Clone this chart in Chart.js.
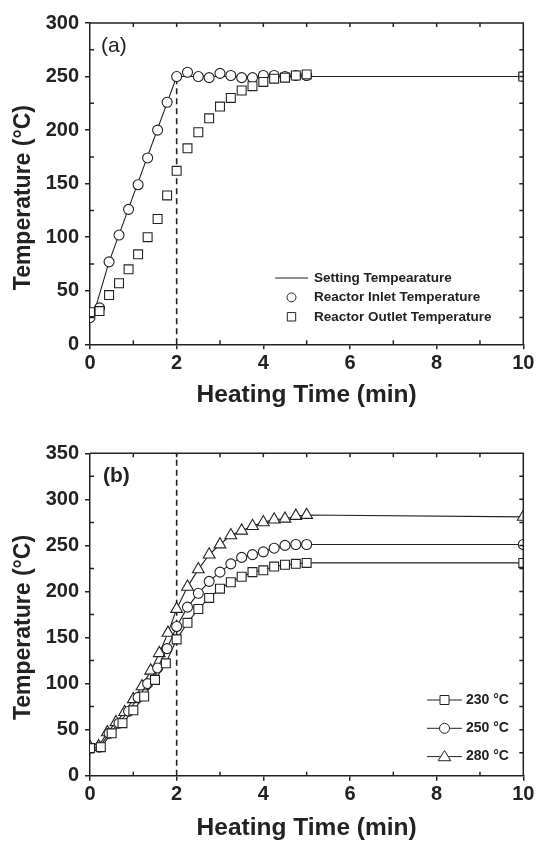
<!DOCTYPE html>
<html>
<head>
<meta charset="utf-8">
<script src="https://cdn.jsdelivr.net/npm/chart.js@4.4.1/dist/chart.umd.min.js"></script>
<style>
  body { margin: 0; background: #fff; }
  #wrap { position: relative; width: 537px; height: 849px; }
  canvas { position: absolute; left: 0; }
</style>
</head>
<body>
<div id="wrap">
  <canvas id="chartA" width="537" height="420" style="top:0"></canvas>
  <canvas id="chartB" width="537" height="429" style="top:420px"></canvas>
</div>
<script>
// ---- panel (a) ----
const timeA = [0, 0.22, 0.44, 0.67, 0.89, 1.11, 1.33, 1.56, 1.78, 2.0, 2.25, 2.5, 2.75, 3.0, 3.25, 3.5, 3.75, 4.0, 4.25, 4.5, 4.75, 5.0, 10];
const inletTemp = [25, 34, 77, 102, 126, 149, 174, 200, 226, 250, 254, 250, 249, 253, 251, 249, 249, 251, 251, 250, 251, 251, 250];
const outletTemp = [30, 31, 46, 57, 70, 84, 100, 117, 139, 162, 183, 198, 211, 222, 230, 237, 241, 245, 248, 249, 251, 252, 250];
const settingTime = [0.12, 0.44, 2, 10];
const settingTemp = [33, 77, 250, 250];

// ---- panel (b) ----
const time230 = [0, 0.25, 0.5, 0.75, 1.0, 1.25, 1.5, 1.75, 2.0, 2.25, 2.5, 2.75, 3.0, 3.25, 3.5, 3.75, 4.0, 4.25, 4.5, 4.75, 5.0, 10];
const temp230 = [30, 31, 46, 57, 71, 86, 104, 122, 148, 166, 181, 193, 203, 210, 216, 221, 223, 227, 229, 230, 231, 231];
const time250 = [0, 0.22, 0.44, 0.67, 0.89, 1.11, 1.33, 1.56, 1.78, 2.0, 2.25, 2.5, 2.75, 3.0, 3.25, 3.5, 3.75, 4.0, 4.25, 4.5, 4.75, 5.0, 10];
const temp250 = [30, 31, 46, 57, 70, 85, 100, 117, 138, 162, 183, 198, 211, 221, 230, 237, 240, 243, 247, 250, 251, 251, 251];
const time280 = [0, 0.2, 0.4, 0.6, 0.8, 1.0, 1.2, 1.4, 1.6, 1.8, 2.0, 2.25, 2.5, 2.75, 3.0, 3.25, 3.5, 3.75, 4.0, 4.25, 4.5, 4.75, 5.0, 10];
const temp280 = [31, 32, 47, 58, 69, 83, 97, 114, 133, 155, 181, 205, 224, 240, 251, 261, 266, 271, 275, 278, 279, 282, 283, 281];

const switchTime = 2;
const xTicks = [0, 2, 4, 6, 8, 10];

const FONT = '"Liberation Sans", Arial, Helvetica, sans-serif';
const INK = '#222';
Chart.defaults.font.family = FONT;
Chart.defaults.color = INK;

const pts = (xs, ys) => xs.map((x, i) => ({ x: x, y: ys[i] }));

// frame box + small inward ticks on all sides
const frameTicks = {
  id: 'frameTicks',
  afterDraw(chart) {
    const { ctx, chartArea: a, scales: { x, y } } = chart;
    ctx.save();
    ctx.strokeStyle = INK;
    ctx.lineWidth = 1.5;
    ctx.beginPath();
    ctx.moveTo(a.left, a.top);
    ctx.lineTo(a.right, a.top);
    ctx.lineTo(a.right, a.bottom);
    for (let v = 1; v < x.max; v++) {
      const px = x.getPixelForValue(v);
      ctx.moveTo(px, a.top);
      ctx.lineTo(px, a.top + 4);
      if (v % 2) {
        ctx.moveTo(px, a.bottom);
        ctx.lineTo(px, a.bottom - 4);
      }
    }
    for (let v = 25; v < y.max; v += 25) {
      const py = y.getPixelForValue(v);
      ctx.moveTo(a.right, py);
      ctx.lineTo(a.right - 4, py);
      if (v % 50) {
        ctx.moveTo(a.left, py);
        ctx.lineTo(a.left + 4, py);
      }
    }
    ctx.stroke();
    ctx.restore();
  }
};

function drawSymbol(ctx, kind, x, y, r) {
  ctx.beginPath();
  if (kind === 'circle') {
    ctx.arc(x, y, r, 0, Math.PI * 2);
  } else if (kind === 'rect') {
    ctx.rect(x - r, y - r, 2 * r, 2 * r);
  } else if (kind === 'triangle') {
    ctx.moveTo(x, y - r * 1.1);
    ctx.lineTo(x + r * 1.15, y + r * 0.75);
    ctx.lineTo(x - r * 1.15, y + r * 0.75);
    ctx.closePath();
  }
  ctx.fillStyle = '#fff';
  ctx.fill();
  ctx.stroke();
}

// y title, in-plot legend and panel letter
const notes = {
  id: 'notes',
  afterDraw(chart, args, opts) {
    const ctx = chart.ctx;
    const a = chart.chartArea;
    ctx.save();
    ctx.strokeStyle = INK;
    ctx.fillStyle = INK;
    ctx.lineWidth = 1;
    ctx.textBaseline = 'middle';

    ctx.save();
    ctx.translate(24, (a.top + a.bottom) / 2 + opts.yTitleShift);
    ctx.rotate(-Math.PI / 2);
    ctx.textAlign = 'center';
    ctx.font = 'bold 23px ' + FONT;
    ctx.fillText('Temperature (°C)', 0, 0);
    ctx.restore();

    ctx.font = opts.panelFont;
    ctx.fillText(opts.panel, opts.panelX, opts.panelY);
    ctx.font = opts.legendFont;
    opts.items.forEach((it, i) => {
      const y = opts.y0 + i * opts.dy;
      if (it.line) {
        ctx.beginPath();
        ctx.moveTo(opts.lineX0, y);
        ctx.lineTo(opts.lineX1, y);
        ctx.stroke();
      }
      if (it.symbol) drawSymbol(ctx, it.symbol, (opts.lineX0 + opts.lineX1) / 2, y, it.r);
      ctx.fillStyle = INK;
      ctx.fillText(it.text, opts.textX, y);
    });
    ctx.restore();
  }
};

function scales(yMax, xHeight, xTitlePad) {
  const tickFont = { size: 20, weight: 'bold' };
  const grid = { drawOnChartArea: false, tickLength: 5, color: INK, lineWidth: 1.5 };
  const border = { color: INK, width: 1.5 };
  return {
    x: {
      type: 'linear', min: 0, max: 10,
      afterBuildTicks(s) { s.ticks = xTicks.map(v => ({ value: v })); },
      ticks: { font: tickFont, padding: 2, color: INK, maxRotation: 0 },
      grid: grid, border: border,
      title: { display: true, text: 'Heating Time (min)', color: INK,
               font: { size: 24.5, weight: 'bold' }, padding: { top: 0, bottom: xTitlePad } },
      afterFit(s) { s.height = xHeight; }
    },
    y: {
      type: 'linear', min: 0, max: yMax,
      ticks: { stepSize: 50, font: tickFont, padding: 6, color: INK },
      grid: grid, border: border,
      afterFit(s) { s.width = 90; }
    }
  };
}

const markerStyle = { borderColor: INK, backgroundColor: '#fff', pointBorderWidth: 1.1, clip: 0 };

// ---- chart (a) ----
new Chart(document.getElementById('chartA'), {
  type: 'scatter',
  data: {
    datasets: [
      Object.assign({ label: 'Reactor Outlet Temperature', data: pts(timeA, outletTemp),
        pointStyle: 'rect', pointRadius: 6.3, order: 0 }, markerStyle),
      Object.assign({ label: 'Reactor Inlet Temperature', data: pts(timeA, inletTemp),
        pointStyle: 'circle', pointRadius: 5, order: 1 }, markerStyle),
      { label: 'Setting Tempearature', data: pts(settingTime, settingTemp), showLine: true,
        pointRadius: 0, borderColor: INK, borderWidth: 1.1, order: 2, clip: 0 },
      { label: 'switch', data: pts([switchTime, switchTime], [0, 250]), showLine: true,
        pointRadius: 0, borderColor: INK, borderWidth: 1.6, borderDash: [6, 4], order: 3 }
    ]
  },
  options: {
    responsive: false, animation: false,
    layout: { padding: { top: 23, right: 13.7, left: 0, bottom: 0 } },
    scales: scales(300, 75.7, 10),
    plugins: {
      legend: { display: false }, tooltip: { enabled: false },
      notes: {
        yTitleShift: 14,
        panel: '(a)', panelFont: '21px ' + FONT, panelX: 101, panelY: 46,
        legendFont: 'bold 13.5px ' + FONT, y0: 278, dy: 19.4, lineX0: 275, lineX1: 308, textX: 314,
        items: [
          { text: 'Setting Tempearature', line: true },
          { text: 'Reactor Inlet Temperature', symbol: 'circle', r: 4.5 },
          { text: 'Reactor Outlet Temperature', symbol: 'rect', r: 4.2 }
        ]
      }
    }
  },
  plugins: [frameTicks, notes]
});

// ---- chart (b) ----
const lineStyle = { showLine: true, borderWidth: 1.1, borderColor: INK, backgroundColor: '#fff',
                    pointBorderWidth: 1.1, clip: 0 };
new Chart(document.getElementById('chartB'), {
  type: 'scatter',
  data: {
    datasets: [
      Object.assign({ label: '230 °C', data: pts(time230, temp230), pointStyle: 'rect', pointRadius: 6.3, order: 0 }, lineStyle),
      Object.assign({ label: '250 °C', data: pts(time250, temp250), pointStyle: 'circle', pointRadius: 5, order: 1 }, lineStyle),
      Object.assign({ label: '280 °C', data: pts(time280, temp280), pointStyle: 'triangle', pointRadius: 6.8, order: 2 }, lineStyle),
      { label: 'switch', data: pts([switchTime, switchTime], [0, 350]), showLine: true,
        pointRadius: 0, borderColor: INK, borderWidth: 1.6, borderDash: [6, 4], order: 3 }
    ]
  },
  options: {
    responsive: false, animation: false,
    layout: { padding: { top: 33.3, right: 13.7, left: 0, bottom: 0 } },
    scales: scales(350, 73.3, 5.6),
    plugins: {
      legend: { display: false }, tooltip: { enabled: false },
      notes: {
        yTitleShift: 13,
        panel: '(b)', panelFont: 'bold 21px ' + FONT, panelX: 103, panelY: 56,
        legendFont: 'bold 14px ' + FONT, y0: 280, dy: 28.3, lineX0: 427, lineX1: 462, textX: 466,
        items: [
          { text: '230 °C', line: true, symbol: 'rect', r: 4.5 },
          { text: '250 °C', line: true, symbol: 'circle', r: 5 },
          { text: '280 °C', line: true, symbol: 'triangle', r: 5.5 }
        ]
      }
    }
  },
  plugins: [frameTicks, notes]
});
</script>
</body>
</html>
